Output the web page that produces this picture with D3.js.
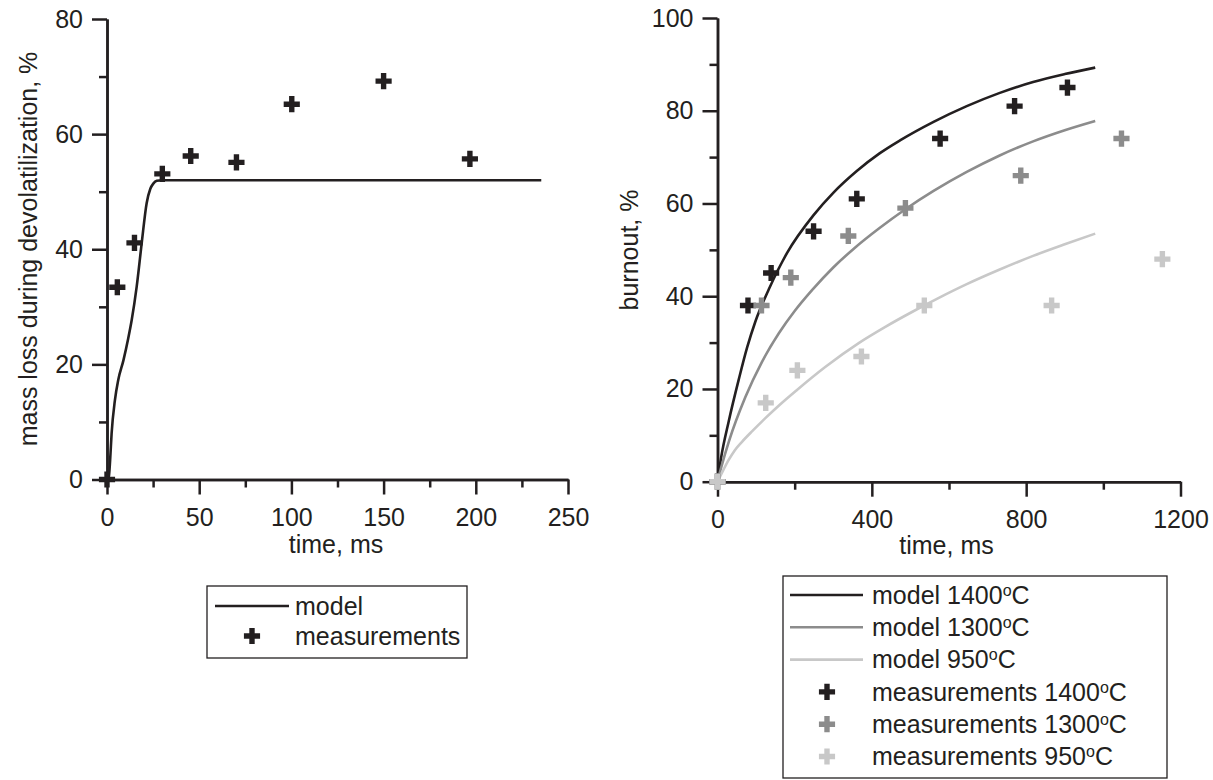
<!DOCTYPE html>
<html>
<head>
<meta charset="utf-8">
<script src="https://cdn.jsdelivr.net/npm/d3@7"></script>
<style>
  body { margin: 0; background: #fff; }
  svg { font-family: Arial, "Liberation Sans", sans-serif; }
</style>
</head>
<body>
<svg id="chart" width="1213" height="780"></svg>
<script>
// left panel: mass loss during devolatilization
var devolModelTime = [0, 1, 1.7, 2.5, 4.3, 6.1, 8.9, 11.5, 13.4, 16.1, 18.8, 21.5, 23.5, 25.1, 27, 29.7, 235.5];
var devolModelLoss = [0, 0.5, 3.4, 8, 13.8, 17.3, 20.7, 24.5, 27.7, 33.5, 41, 48, 50.5, 51.4, 51.9, 52, 52];
var devolMeasTime = [0, 5.6, 14.9, 30, 45.4, 70.2, 100.2, 150, 196.8];
var devolMeasLoss = [0, 33.4, 41.1, 53.1, 56.2, 55.1, 65.2, 69.2, 55.7];

// right panel: burnout, three temperatures
var temps = ['1400', '1300', '950'];
var model1400Time = [0, 10, 29, 55, 77, 98, 133, 180, 249, 300, 361, 420, 473, 560, 646, 730, 818, 900, 979];
var model1400Burn = [0, 5.5, 13, 22, 29, 34.5, 41.5, 49.3, 57.5, 62.3, 67, 70.8, 73.6, 77.6, 81, 83.8, 86.2, 87.9, 89.3];
var model1300Time = [0, 10, 30, 72, 115, 159, 200, 245, 300, 354, 420, 486, 560, 646, 730, 818, 900, 979];
var model1300Burn = [0, 3.2, 8.8, 18.2, 25.8, 32, 36.8, 41.3, 46.2, 50.3, 54.7, 58.7, 62.7, 66.8, 70.3, 73.4, 75.8, 77.8];
var model950Time = [0, 15, 29, 45, 63.5, 90, 124, 160, 206, 280, 366, 435, 504, 575, 646, 730, 818, 900, 979];
var model950Burn = [0, 2.5, 4.7, 6.8, 8.6, 10.9, 13.7, 16.5, 19.8, 24.8, 29.9, 33.4, 36.6, 39.7, 42.6, 45.7, 48.7, 51.2, 53.5];
var meas1400Time = [0, 79, 139, 249, 361, 577, 770, 907];
var meas1400Burn = [0, 38, 45, 54, 61, 74, 81, 85];
var meas1300Time = [0, 114, 190, 339, 487, 786, 1047];
var meas1300Burn = [0, 38, 44, 53, 59, 66, 74];
var meas950Time = [0, 125, 207, 373, 536, 866, 1153];
var meas950Burn = [0, 17, 24, 27, 38, 38, 48];

var leftXTicks = [0, 50, 100, 150, 200, 250];
var leftXMinor = [25, 75, 125, 175, 225];
var leftYTicks = [0, 20, 40, 60, 80];
var leftYMinor = [10, 30, 50, 70];
var rightXTicks = [0, 400, 800, 1200];
var rightXMinor = [200, 600, 1000];
var rightYTicks = [0, 20, 40, 60, 80, 100];
var rightYMinor = [10, 30, 50, 70, 90];

(function() {
  var INK = '#231f20';
  var SHADES = ['#231f20', '#8c8c8c', '#c8c8c8'];
  var FONT = 25;
  var svg = d3.select('#chart');
  var plus = d3.symbol().type(d3.symbolCross).size(145);

  function zip(xs, ys) {
    return xs.map(function(x, i) { return [x, ys[i]]; });
  }

  function axes(g, x, y, xMajor, xMinor, yMajor, yMinor) {
    var h = y.range()[0];
    g.append('g').attr('transform', 'translate(0,' + h + ')')
      .call(d3.axisBottom(x).tickValues(xMinor).tickSize(8).tickSizeOuter(0).tickFormat(''));
    g.append('g').call(d3.axisLeft(y).tickValues(yMinor).tickSize(8).tickSizeOuter(0).tickFormat(''));
    g.append('g').attr('transform', 'translate(0,' + h + ')')
      .call(d3.axisBottom(x).tickValues(xMajor).tickSize(15).tickSizeOuter(0).tickPadding(14).tickFormat(d3.format('d')));
    g.append('g')
      .call(d3.axisLeft(y).tickValues(yMajor).tickSize(15).tickSizeOuter(0).tickPadding(9).tickFormat(d3.format('d')));
    g.selectAll('.domain, .tick line').attr('stroke', INK).attr('stroke-width', 2.5);
    g.selectAll('.tick text').attr('font-size', FONT).attr('font-family', 'Arial, "Liberation Sans", sans-serif').attr('fill', INK);
  }

  function sup(textSel, head, tail) {
    textSel.append('tspan').text(head);
    textSel.append('tspan').attr('font-size', 16).attr('dy', -8).text('o');
    textSel.append('tspan').attr('dy', 8).text(tail);
  }

  var line = function(x, y) {
    return d3.line().x(function(d) { return x(d[0]); }).y(function(d) { return y(d[1]); }).curve(d3.curveMonotoneX);
  };

  // ---- left panel
  var left = svg.append('g').attr('transform', 'translate(107,19)');
  var lx = d3.scaleLinear().domain([0, 250]).range([0, 461]);
  var ly = d3.scaleLinear().domain([0, 80]).range([460.5, 0]);
  axes(left, lx, ly, leftXTicks, leftXMinor, leftYTicks, leftYMinor);

  left.append('path').datum(zip(devolModelTime, devolModelLoss))
    .attr('d', line(lx, ly)).attr('fill', 'none').attr('stroke', INK).attr('stroke-width', 2.6);
  left.selectAll('.meas').data(zip(devolMeasTime, devolMeasLoss)).enter().append('path')
    .attr('class', 'meas').attr('d', plus).attr('fill', INK)
    .attr('transform', function(d) { return 'translate(' + lx(d[0]) + ',' + ly(d[1]) + ')'; });

  left.append('text').attr('x', 229).attr('y', 534).attr('text-anchor', 'middle')
    .attr('font-size', FONT).attr('fill', INK).text('time, ms');
  left.append('text').attr('transform', 'translate(-70,230) rotate(-90)').attr('text-anchor', 'middle')
    .attr('font-size', FONT).attr('fill', INK).text('mass loss during devolatilization, %');

  var lleg = svg.append('g').attr('transform', 'translate(207,586)');
  lleg.append('rect').attr('width', 260).attr('height', 72).attr('fill', 'none').attr('stroke', INK).attr('stroke-width', 1.3);
  lleg.append('line').attr('x1', 8).attr('x2', 82).attr('y1', 20).attr('y2', 20).attr('stroke', INK).attr('stroke-width', 2.6);
  lleg.append('text').attr('x', 88).attr('y', 20).attr('dy', '0.35em').attr('font-size', FONT).attr('fill', INK).text('model');
  lleg.append('path').attr('d', plus).attr('fill', INK).attr('transform', 'translate(45,50)');
  lleg.append('text').attr('x', 88).attr('y', 50).attr('dy', '0.35em').attr('font-size', FONT).attr('fill', INK).text('measurements');

  // ---- right panel
  var right = svg.append('g').attr('transform', 'translate(717.5,18)');
  var rx = d3.scaleLinear().domain([0, 1200]).range([0, 463]);
  var ry = d3.scaleLinear().domain([0, 100]).range([463.7, 0]);
  axes(right, rx, ry, rightXTicks, rightXMinor, rightYTicks, rightYMinor);

  var models = [zip(model1400Time, model1400Burn), zip(model1300Time, model1300Burn), zip(model950Time, model950Burn)];
  var meas = [zip(meas1400Time, meas1400Burn), zip(meas1300Time, meas1300Burn), zip(meas950Time, meas950Burn)];

  right.selectAll('.model').data(models).enter().append('path')
    .attr('class', 'model').attr('d', line(rx, ry)).attr('fill', 'none')
    .attr('stroke', function(d, i) { return SHADES[i]; }).attr('stroke-width', 2.6);
  meas.forEach(function(series, i) {
    right.selectAll('.m' + i).data(series).enter().append('path')
      .attr('class', 'm' + i).attr('d', plus).attr('fill', SHADES[i])
      .attr('transform', function(d) { return 'translate(' + rx(d[0]) + ',' + ry(d[1]) + ')'; });
  });

  right.append('text').attr('x', 229).attr('y', 536).attr('text-anchor', 'middle')
    .attr('font-size', FONT).attr('fill', INK).text('time, ms');
  right.append('text').attr('transform', 'translate(-79.5,232) rotate(-90)').attr('text-anchor', 'middle')
    .attr('font-size', FONT).attr('fill', INK).text('burnout, %');

  var rleg = svg.append('g').attr('transform', 'translate(783,576)');
  rleg.append('rect').attr('width', 384).attr('height', 202).attr('fill', 'none').attr('stroke', INK).attr('stroke-width', 1.3);
  temps.forEach(function(t, i) {
    var cy = 19 + i * 32.3;
    rleg.append('line').attr('x1', 7).attr('x2', 80).attr('y1', cy).attr('y2', cy)
      .attr('stroke', SHADES[i]).attr('stroke-width', 2.6);
    sup(rleg.append('text').attr('x', 89).attr('y', cy).attr('dy', '0.35em').attr('font-size', FONT).attr('fill', INK), 'model ' + t, 'C');
  });
  temps.forEach(function(t, i) {
    var cy = 19 + (i + 3) * 32.3;
    rleg.append('path').attr('d', plus).attr('fill', SHADES[i]).attr('transform', 'translate(44,' + cy + ')');
    sup(rleg.append('text').attr('x', 89).attr('y', cy).attr('dy', '0.35em').attr('font-size', FONT).attr('fill', INK), 'measurements ' + t, 'C');
  });
}).call(this);
</script>
</body>
</html>
